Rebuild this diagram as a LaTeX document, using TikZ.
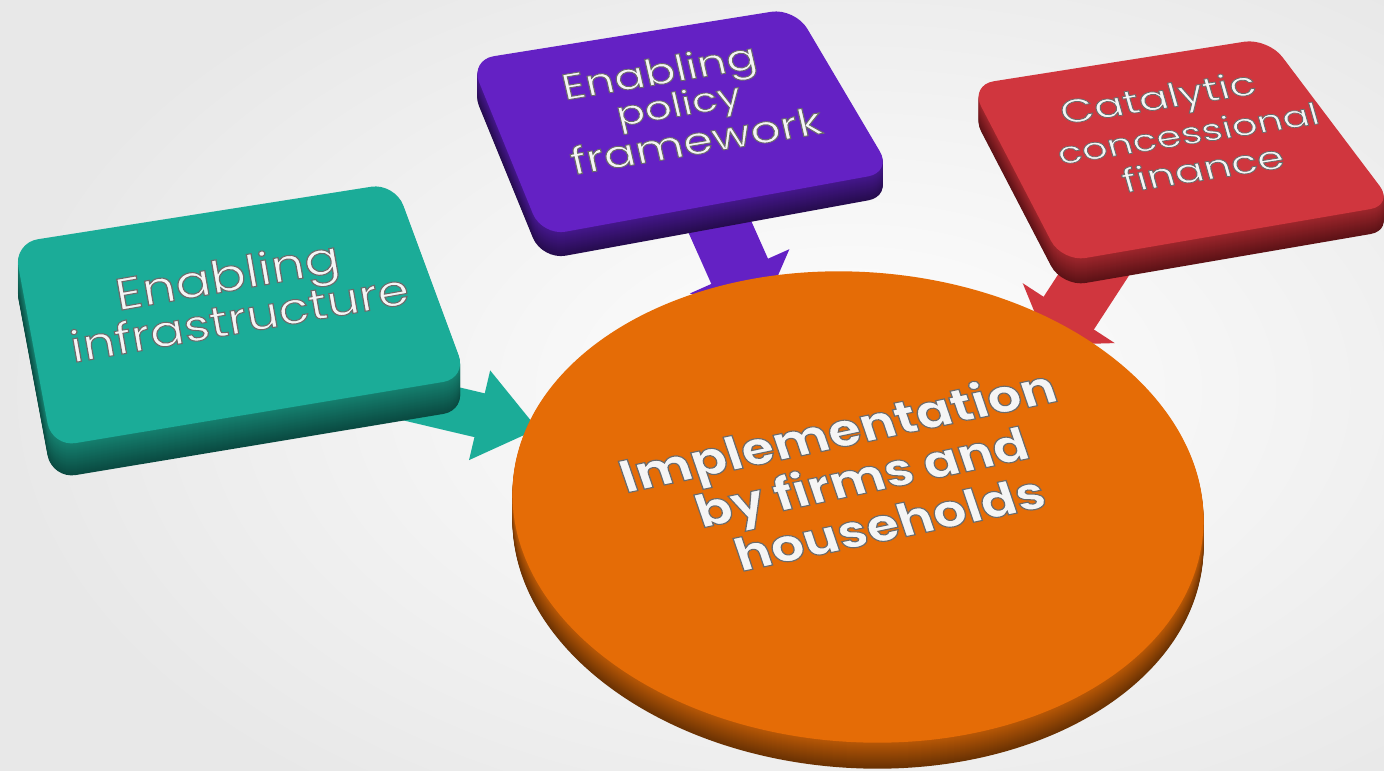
\documentclass[tikz,border=0pt]{standalone}
\usepackage{fontspec}
\newfontfamily\gothic{Poppins}
\usetikzlibrary{arrows.meta}

\definecolor{gface}{HTML}{1BAC98}
\definecolor{gsideA}{HTML}{15806F}
\definecolor{gsideB}{HTML}{0A4A41}
\definecolor{pface}{HTML}{6421C4}
\definecolor{psideA}{HTML}{45178C}
\definecolor{psideB}{HTML}{260C4E}
\definecolor{rface}{HTML}{D0363E}
\definecolor{rsideA}{HTML}{9E262C}
\definecolor{rsideB}{HTML}{5C1216}
\definecolor{oface}{HTML}{E56C06}
\definecolor{osideA}{HTML}{B85806}
\definecolor{osideB}{HTML}{6A3203}
\definecolor{txtwhite}{HTML}{F5F5F5}

% raised slab: four corners, depth (px), face colour, side colours (upper, lower)
\newcommand\slab[8]{%
  \foreach \k in {#5,...,1}{%
    \pgfmathsetmacro\mixpct{100*\k/#5}%
    \fill[#8!\mixpct!#7, rounded corners=12pt, shift={(0,\k)}] #1 -- #2 -- #3 -- #4 -- cycle;
  }%
  \fill[#6, rounded corners=12pt] #1 -- #2 -- #3 -- #4 -- cycle;
}

% white lettering with a grey rim, set to a given width
\newcommand\emb[2]{\resizebox{#1}{!}{\color{txtwhite}\special{pdf:literal direct 2 Tr 0.24 w 0.42 0.42 0.42 RG}#2\special{pdf:literal direct 0 Tr}}}

\tikzset{
  lbl/.style={anchor=base, inner sep=0pt, font=\gothic},
  gtxt/.style={lbl, rotate=10, yscale=0.85},
  ptxt/.style={lbl, rotate=9.5, xslant=-0.06, yscale=0.8},
  rtxt/.style={lbl, rotate=9, xslant=-0.12, yscale=0.76},
  otxt/.style={lbl, font=\gothic\bfseries, rotate=12, xslant=-0.12, yscale=0.88},
  garrow/.style={gface, line width=22.5pt, -{Triangle[width=44pt,length=30pt]}},
  parrow/.style={pface, line width=31pt, -{Triangle[width=53pt,length=25pt]}},
  rarrow/.style={rface, line width=30pt, -{Triangle[width=54pt,length=19pt]}},
}

\begin{document}
\begin{tikzpicture}[x=0.5pt, y=-0.5pt]
  \useasboundingbox (0,0) rectangle (1384,770);
  \clip (0,0) rectangle (1384,770);

  % backdrop
  \fill[black!8] (0,0) rectangle (1384,770);
  \shade[inner color=white, outer color=black!9] (0,-120) rectangle (1700,900);

  % anchor points of the three flows
  \coordinate (gsrc) at (330,380);
  \coordinate (gdst) at (538,429);
  \coordinate (psrc) at (699,180);
  \coordinate (pdst) at (760,317);
  \coordinate (rsrc) at (1130,219);
  \coordinate (rdst) at (1048,345);

  % flows into the disk
  \draw[garrow] (gsrc) -- (gdst);
  \draw[parrow] (psrc) -- (pdst);
  \draw[rarrow] (rsrc) -- (rdst);

  % the three input slabs
  \slab{(14,243)}{(395,183)}{(467,378)}{(52,447)}{32}{gface}{gsideA}{gsideB}
  \slab{(470,60)}{(795,8)}{(892,172)}{(542,236)}{24}{pface}{psideA}{psideB}
  \slab{(970,85)}{(1268,38)}{(1394,205)}{(1062,262)}{25}{rface}{rsideA}{rsideB}

  % the central disk
  \foreach \k in {26,...,1}{%
    \pgfmathsetmacro\mixpct{100*\k/26}%
    \fill[osideB!\mixpct!osideA, shift={(0,\k)}, rotate around={-4:(858,507)}]
      (858,507) ellipse [x radius=173pt, y radius=117.5pt];
  }
  \fill[oface, rotate around={-4:(858,507)}] (858,507) ellipse [x radius=173pt, y radius=117.5pt];

  % labels
  \node[gtxt] (g1) at (230,291) {\emb{113.5pt}{Enabling}};
  \node[gtxt] (g2) at (242,333) {\emb{171.5pt}{infrastructure}};

  \node[ptxt] (p1) at (662,84)  {\emb{98.5pt}{Enabling}};
  \node[ptxt] (p2) at (681,116) {\emb{63pt}{policy}};
  \node[ptxt] (p3) at (699,154) {\emb{127pt}{framework}};

  \node[rtxt] (r1) at (1161,109) {\emb{98.5pt}{Catalytic}};
  \node[rtxt] (r2) at (1191,144) {\emb{132pt}{concessional}};
  \node[rtxt] (r3) at (1206,180) {\emb{81.5pt}{finance}};

  \node[otxt] (o1) at (843,447) {\emb{222pt}{Implementation}};
  \node[otxt] (o2) at (867,493) {\emb{169pt}{by firms and}};
  \node[otxt] (o3) at (895,539) {\emb{157.5pt}{households}};
\end{tikzpicture}
\end{document}
